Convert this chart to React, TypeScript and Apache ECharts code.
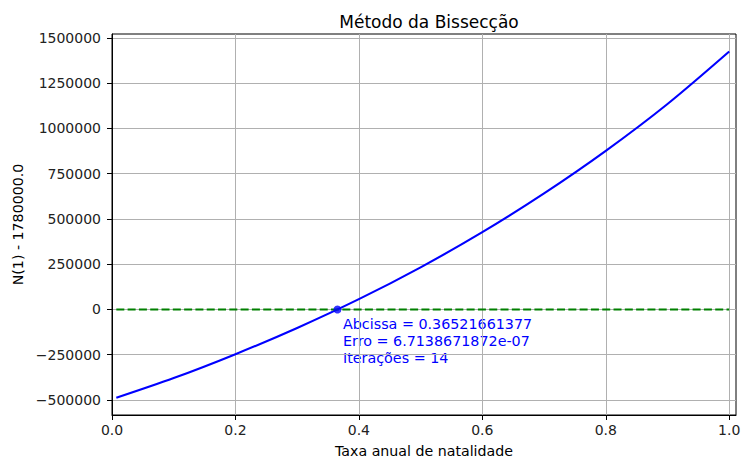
import React, { useEffect, useRef } from "react";
import * as echarts from "echarts";

const lambdaValues = [0.007, 0.1, 0.2, 0.3, 0.4, 0.5, 0.6, 0.7, 0.8, 0.9, 1.0];
const nValues = [-488000, -379000, -247000, -102000, 57000, 233000, 427000, 641000, 876000, 1135000, 1425000];
const zeroLineX = [0.007, 1.0];
const rootX = 0.36521661377;
const xTickValues = [0, 0.2, 0.4, 0.6, 0.8, 1.0];
const xTicks = ["0.0", "0.2", "0.4", "0.6", "0.8", "1.0"];
const yTickValues = [-500000, -250000, 0, 250000, 500000, 750000, 1000000, 1250000, 1500000];
const annotationLines = [
  "Abcissa = 0.36521661377",
  "Erro = 6.7138671872e-07",
  "Iterações = 14",
];
const titleText = "Método da Bissecção";
const xName = "Taxa anual de natalidade";
const yName = "N(1) - 1780000.0";

const FONT = "DejaVu Sans";

export default function App() {
  const ref = useRef<HTMLDivElement>(null);
  useEffect(() => {
    if (!ref.current) return;
    const chart = echarts.init(ref.current, null, { renderer: "svg" });
    const curve = lambdaValues.map((x, i) => [x, nValues[i]]);
    chart.setOption({
      animation: false,
      title: {
        text: titleText,
        left: 424,
        top: 8,
        textAlign: "center",
        textStyle: { fontFamily: FONT, fontSize: 17, fontWeight: "normal", color: "#000" },
      },
      grid: {
        left: 112,
        right: 6,
        top: 34,
        bottom: 44,
        containLabel: false,
        outerBoundsMode: "none",
        show: true,
        borderColor: "#000",
        borderWidth: 1,
        backgroundColor: "transparent",
      },
      xAxis: {
        type: "value",
        min: 0,
        max: 1.011,
        interval: 0.2,
        name: xName,
        nameLocation: "middle",
        nameGap: 29,
        nameTextStyle: { fontFamily: FONT, fontSize: 14.2, color: "#000" },
        axisLine: { show: true, onZero: false, lineStyle: { color: "#000", width: 1 } },
        axisTick: { show: true, length: 5, customValues: xTickValues, lineStyle: { color: "#000", width: 1 } },
        axisLabel: {
          margin: 8,
          fontFamily: FONT,
          fontSize: 14,
          color: "#222",
          customValues: xTickValues,
          formatter: (v: number) => {
            const k = Math.round(v * 5);
            return Math.abs(v * 5 - k) < 1e-6 && k >= 0 && k < xTicks.length ? xTicks[k] : "";
          },
        },
        splitLine: { show: true, lineStyle: { color: "#b0b0b0", width: 1 } },
      },
      yAxis: {
        type: "value",
        min: -583000,
        max: 1522000,
        minInterval: 250000,
        maxInterval: 250000,
        name: yName,
        nameLocation: "middle",
        nameGap: 86,
        nameTextStyle: { fontFamily: FONT, fontSize: 14.2, color: "#000" },
        axisLine: { show: true, onZero: false, lineStyle: { color: "#000", width: 1 } },
        axisTick: { show: true, length: 5, customValues: yTickValues, lineStyle: { color: "#000", width: 1 } },
        axisLabel: {
          margin: 11,
          fontFamily: FONT,
          fontSize: 14,
          color: "#222",
          customValues: yTickValues,
          formatter: (v: number) => (v < 0 ? "\u2212" + Math.abs(v) : String(v)),
        },
        splitLine: { show: true, lineStyle: { color: "#b0b0b0", width: 1 } },
      },
      series: [
        {
          type: "line",
          data: curve,
          smooth: 0.3,
          showSymbol: false,
          lineStyle: { color: "#0000ff", width: 2.1 },
          z: 3,
        },
        {
          type: "line",
          data: zeroLineX.map((x) => [x, 0]),
          showSymbol: false,
          lineStyle: { color: "#008000", width: 2, type: [8, 3.3] },
          z: 4,
        },
        {
          type: "scatter",
          data: [[rootX, 0]],
          symbolSize: 8,
          itemStyle: { color: "#0000ff" },
          z: 5,
        },
      ],
      graphic: [
        {
          type: "text",
          left: 343,
          top: 316,
          style: {
            text: annotationLines.join("\n"),
            fontFamily: FONT,
            fontSize: 14.3,
            lineHeight: 16.7,
            fill: "#0000ff",
          },
        },
      ],
    });
    return () => chart.dispose();
  }, []);
  return <div ref={ref} style={{ width: 742, height: 459, position: "absolute", left: 0, top: 0 }} />;
}
